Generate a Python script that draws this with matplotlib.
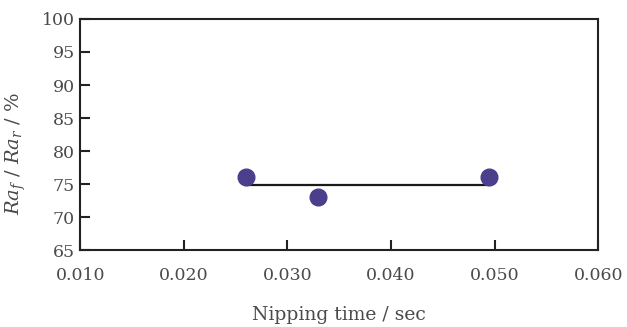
import matplotlib
matplotlib.use("Agg")
import matplotlib.pyplot as plt

plt.rcParams["font.family"] = "DejaVu Serif"
plt.rcParams["mathtext.fontset"] = "dejavuserif"

# Nipping time vs roughness ratio
nip_time = [0.026, 0.033, 0.0495]
ra_ratio = [76, 73, 76]
fit_x = [0.026, 0.0495]
fit_y = [74.8, 74.8]

xticks = [0.010, 0.020, 0.030, 0.040, 0.050, 0.060]
yticks = [65, 70, 75, 80, 85, 90, 95, 100]

text_color = "#4a4a4a"
marker_color = "#4b3f8c"

fig = plt.figure(figsize=(6.27, 3.27), dpi=100)
ax = fig.add_axes([0.128, 0.235, 0.826, 0.707])

ax.plot(fit_x, fit_y, color="#1a1a1a", lw=1.6, zorder=2)
ax.plot(nip_time, ra_ratio, "o", ms=12, color=marker_color,
        markeredgecolor=marker_color, zorder=3)

ax.set_xlim(0.010, 0.060)
ax.set_ylim(65, 100)
ax.set_xticks(xticks)
ax.set_xticklabels([f"{t:.3f}" for t in xticks])
ax.set_yticks(yticks)

for s in ax.spines.values():
    s.set_linewidth(1.5)
    s.set_color("#222222")

ax.tick_params(direction="in", length=7, width=1.5, colors="#222222",
               labelcolor=text_color, labelsize=12.5)
ax.tick_params(axis="x", pad=12)
ax.tick_params(axis="y", pad=4)

ax.set_xlabel("Nipping time / sec", fontsize=13.5, color=text_color, labelpad=16)
ax.set_ylabel(r"$Ra_f$ / $Ra_r$ / %", fontsize=14, color=text_color)
ax.yaxis.set_label_coords(-0.1, 0.42)

fig.savefig("out.png", dpi=100)
